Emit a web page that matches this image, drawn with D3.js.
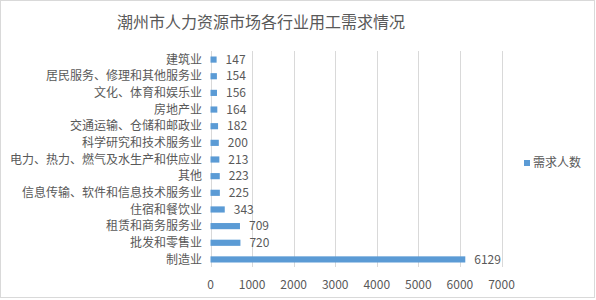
<!DOCTYPE html>
<html><head><meta charset="utf-8">
<script src="https://cdn.jsdelivr.net/npm/d3@7"></script>
<style>body{margin:0;background:#fff}svg{display:block}</style>
</head><body>
<script>
const categories = ["建筑业","居民服务、修理和其他服务业","文化、体育和娱乐业","房地产业","交通运输、仓储和邮政业","科学研究和技术服务业","电力、热力、燃气及水生产和供应业","其他","信息传输、软件和信息技术服务业","住宿和餐饮业","租赁和商务服务业","批发和零售业","制造业"];
const values = [147,154,156,164,182,200,213,223,225,343,709,720,6129];
const xTicks = [0,1000,2000,3000,4000,5000,6000,7000];
const seriesName = "需求人数";
const title = "潮州市人力资源市场各行业用工需求情况";

const W = 596, H = 300;
const font = "'Noto Sans CJK SC','Microsoft YaHei',sans-serif";
const txt = "#595959";
const svg = d3.select("body").append("svg").attr("width", W).attr("height", H);
svg.append("rect").attr("x",0.5).attr("y",0.5).attr("width",W-2).attr("height",H-3)
  .attr("fill","#fff").attr("stroke","#d9d9d9");

svg.append("text").attr("x",261).attr("y",28).attr("text-anchor","middle")
  .attr("font-family",font).attr("font-size",16).attr("fill",txt).text(title);

const x = d3.scaleLinear().domain([0,7000]).range([210.5,501.5]);
const y = d3.scaleBand().domain(categories).range([51.5,267.5]).paddingInner(0.63).paddingOuter(0.3);

const g = svg.append("g");
g.selectAll("line.grid").data(xTicks).join("line")
  .attr("x1",d=>Math.round(x(d))+0.5).attr("x2",d=>Math.round(x(d))+0.5)
  .attr("y1",51).attr("y2",267).attr("stroke","#d9d9d9").attr("stroke-width",1);

g.selectAll("text.xt").data(xTicks).join("text")
  .attr("x",d=>x(d)).attr("y",289).attr("text-anchor","middle")
  .attr("font-family",font).attr("font-size",12).attr("fill",txt).text(d=>d);

g.selectAll("rect.bar").data(values).join("rect")
  .attr("x",x(0)).attr("y",(d,i)=>y(categories[i]))
  .attr("width",d=>x(d)-x(0)).attr("height",y.bandwidth()).attr("fill","#5b9bd5");

g.selectAll("text.cat").data(categories).join("text")
  .attr("x",202).attr("y",d=>y(d)+y.bandwidth()/2).attr("dy","0.35em").attr("text-anchor","end")
  .attr("font-family",font).attr("font-size",12).attr("fill",txt).text(d=>d);

g.selectAll("text.val").data(values).join("text")
  .attr("x",d=>x(d)+9).attr("y",(d,i)=>y(categories[i])+y.bandwidth()/2).attr("dy","0.35em")
  .attr("font-family",font).attr("font-size",12).attr("fill",txt).text(d=>d);

svg.append("rect").attr("x",524).attr("y",160).attr("width",6).attr("height",6).attr("fill","#5b9bd5");
svg.append("text").attr("x",533).attr("y",163).attr("dy","0.35em")
  .attr("font-family",font).attr("font-size",12).attr("fill",txt).text(seriesName);
</script>
</body></html>
